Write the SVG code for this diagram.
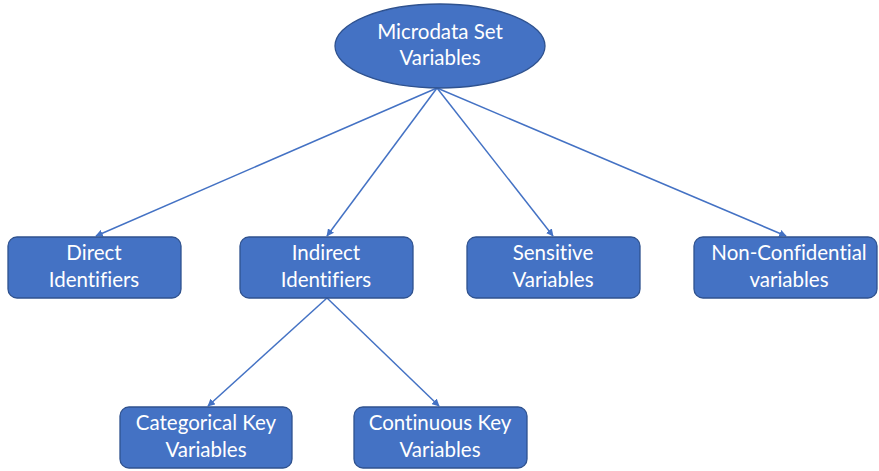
<svg xmlns="http://www.w3.org/2000/svg" width="879" height="471" viewBox="0 0 879 471">
  <style>
    .node { fill: #4472C4; stroke: #2F528F; stroke-width: 1.3; }
    .label { fill: #FFFFFF; font-family: Lato, "Open Sans", "Liberation Sans", sans-serif; font-size: 20.5px; text-anchor: middle; font-variant-ligatures: none; font-feature-settings: "liga" 0, "clig" 0; }
    .edge { stroke: #4472C4; stroke-width: 1.5; fill: none; marker-end: url(#arrow); }
  </style>
  <defs>
    <marker id="arrow" viewBox="0 0 10 10" refX="9" refY="5" markerWidth="5" markerHeight="5" orient="auto" markerUnits="strokeWidth">
      <path d="M0,0 L10,5 L0,10 z" fill="#4472C4"/>
    </marker>
  </defs>
  <rect width="879" height="471" fill="#FFFFFF"/>

  <g id="connectors">
    <line class="edge" x1="437" y1="88" x2="96" y2="236"/>
    <line class="edge" x1="437" y1="88" x2="327" y2="236"/>
    <line class="edge" x1="437" y1="88" x2="553" y2="236"/>
    <line class="edge" x1="437" y1="88" x2="786" y2="236"/>
    <line class="edge" x1="327" y1="298" x2="208" y2="406"/>
    <line class="edge" x1="327" y1="298" x2="439" y2="406"/>
  </g>

  <g id="microdata-set-variables">
    <ellipse class="node" cx="440" cy="46" rx="105" ry="42"/>
    <text class="label" x="440" y="39">Microdata Set</text>
    <text class="label" x="440" y="65">Variables</text>
  </g>

  <g id="direct-identifiers">
    <rect class="node" x="8" y="237" width="173" height="61" rx="9"/>
    <text class="label" x="94" y="260">Direct</text>
    <text class="label" x="94" y="287">Identifiers</text>
  </g>

  <g id="indirect-identifiers">
    <rect class="node" x="240" y="237" width="173" height="61" rx="9"/>
    <text class="label" x="326" y="260">Indirect</text>
    <text class="label" x="326" y="287">Identifiers</text>
  </g>

  <g id="sensitive-variables">
    <rect class="node" x="467" y="237" width="173" height="61" rx="9"/>
    <text class="label" x="553" y="260">Sensitive</text>
    <text class="label" x="553" y="287">Variables</text>
  </g>

  <g id="non-confidential-variables">
    <rect class="node" x="694" y="237" width="183" height="61" rx="9"/>
    <text class="label" x="789" y="260">Non-Confidential</text>
    <text class="label" x="789" y="287">variables</text>
  </g>

  <g id="categorical-key-variables">
    <rect class="node" x="120" y="407" width="172" height="61" rx="9"/>
    <text class="label" x="206" y="430">Categorical Key</text>
    <text class="label" x="206" y="457">Variables</text>
  </g>

  <g id="continuous-key-variables">
    <rect class="node" x="354" y="407" width="173" height="61" rx="9"/>
    <text class="label" x="440" y="430">Continuous Key</text>
    <text class="label" x="440" y="457">Variables</text>
  </g>
</svg>
